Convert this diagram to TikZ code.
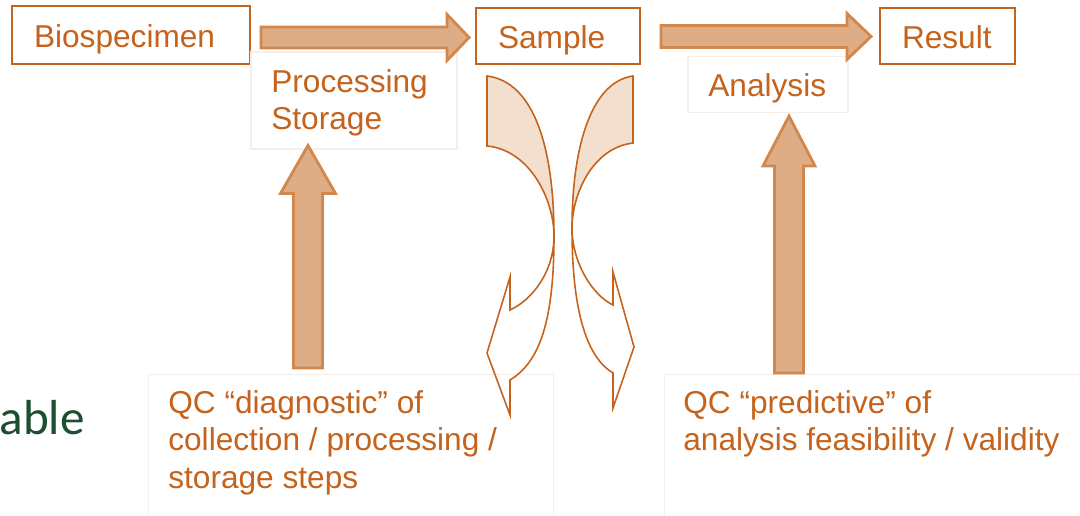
\documentclass[tikz,border=0pt]{standalone}
\usepackage{fontspec}
\setmainfont{Liberation Sans}
\newfontfamily\calibfont{Carlito}
\usetikzlibrary{calc}
\definecolor{org}{RGB}{197,98,28}
\definecolor{arrfill}{RGB}{222,173,133}
\definecolor{arrdraw}{RGB}{210,136,76}
\definecolor{lobe}{RGB}{243,223,206}
\definecolor{faint}{RGB}{246,238,231}
\definecolor{dkgreen}{RGB}{28,78,48}
% horizontal block arrow: start, tip, shaft half, head half, head length
\newcommand{\myharrow}[5]{%
  \draw[blockarrow] ($(#1)+(0,-#3)$) -- ($(#2)+(-#5,-#3)$) -- ($(#2)+(-#5,-#4)$) -- (#2)
    -- ($(#2)+(-#5,#4)$) -- ($(#2)+(-#5,#3)$) -- ($(#1)+(0,#3)$) -- cycle;}
% vertical (upward) block arrow
\newcommand{\myvarrow}[5]{%
  \draw[blockarrow] ($(#1)+(-#3,0)$) -- ($(#2)+(-#3,#5)$) -- ($(#2)+(-#4,#5)$) -- (#2)
    -- ($(#2)+(#4,#5)$) -- ($(#2)+(#3,#5)$) -- ($(#1)+(#3,0)$) -- cycle;}
\begin{document}
\begin{tikzpicture}[x=0.02cm,y=-0.02cm,
  box/.style={draw=org, line width=1.1pt, fill=white, inner xsep=0.44cm, inner ysep=0pt,
    align=left, font=\fontsize{18}{21.3}\selectfont, text=org, text height=18.6pt, text depth=4pt},
  lbox/.style={draw=faint, line width=0.6pt, fill=white, inner sep=0pt},
  lbl/.style={text=org, font=\fontsize{18}{21.3}\selectfont, align=left, inner sep=0pt},
  blockarrow/.style={fill=arrfill, draw=arrdraw, line width=1.6pt, line join=miter},
  curvarr/.style={draw=org, line width=0.9pt, line join=miter}]

\useasboundingbox (0,0) rectangle (1080,516);
\fill[white] (0,0) rectangle (1080,516);

% main boxes
\node[box, text width=3.88cm, minimum height=1.16cm] (bio) at (131,35) {Biospecimen};
\node[box, text width=2.40cm, minimum height=1.12cm] (sample) at (558,36) {Sample};
\node[box, text width=1.82cm, minimum height=1.12cm] (result) at (947.5,36) {Result};

% light label boxes
\node[lbox, minimum width=4.12cm, minimum height=1.94cm] (proc) at (354,100.5) {};
\node[lbl, anchor=north west] (proct) at (271,69) {Processing\\Storage};
\node[lbox, minimum width=3.2cm, minimum height=1.12cm] (an) at (768,84.5) {};
\node[lbl, anchor=base west] (ant) at (708,97) {Analysis};

\node[lbox, anchor=north west, minimum width=8.1cm, minimum height=3.2cm] (qc1) at (148,374) {};
\node[lbl, anchor=north west] (qc1t) at (168,390) {QC “diagnostic” of\\collection / processing /\\storage steps};
\node[lbox, anchor=north west, minimum width=8.6cm, minimum height=3.2cm] (qc2) at (664,374) {};
\node[lbl, anchor=north west] (qc2t) at (683,390) {QC “predictive” of\\analysis feasibility / validity};

\node[anchor=base east, inner sep=0pt, text=dkgreen, font=\calibfont\fontsize{28}{32}\selectfont] (able) at (85,435) {able};

% block arrows
\coordinate (h1s) at ($(bio.east)+(10,2.5)$);
\coordinate (h1t) at ($(sample.west)+(-6,1.5)$);
\coordinate (h2s) at ($(sample.east)+(20,0.5)$);
\coordinate (h2t) at ($(result.west)+(-8,0.5)$);
\coordinate (v1s) at ($(qc1.north west)+(160,-6)$);
\coordinate (v1t) at ($(proc.south)+(-46,-4)$);
\coordinate (v2s) at ($(qc2.north west)+(125,-1)$);
\coordinate (v2t) at ($(an.south)+(21,3)$);
\myharrow{h1s}{h1t}{10.5}{23}{22}
\myharrow{h2s}{h2t}{11}{23}{24}
\myvarrow{v1s}{v1t}{14.5}{27.5}{48}
\myvarrow{v2s}{v2t}{14.5}{26}{50}

% curved arrows (left)
\fill[lobe] (487,76) .. controls (535,82) and (554,150) .. (554,236)
  .. controls (554,200) and (530,150) .. (487,146) -- cycle;
\draw[curvarr] (487,76) -- (487,146) .. controls (530,150) and (554,200) .. (554,236)
  .. controls (554,272) and (532,300) .. (510,310) -- (510,277) -- (487,353) -- (510,415)
  -- (510,380) .. controls (540,362) and (554,320) .. (554,236)
  .. controls (554,150) and (535,82) .. (487,76) -- cycle;
% curved arrows (right)
\fill[lobe] (633,76) .. controls (590,82) and (572,150) .. (572,228)
  .. controls (572,195) and (592,148) .. (633,143) -- cycle;
\draw[curvarr] (633,76) -- (633,143) .. controls (592,148) and (572,195) .. (572,228)
  .. controls (572,262) and (592,295) .. (613,305) -- (613,272) -- (634,347) -- (613,408)
  -- (613,373) .. controls (588,358) and (572,315) .. (572,228)
  .. controls (572,150) and (590,82) .. (633,76) -- cycle;
\end{tikzpicture}
\end{document}
